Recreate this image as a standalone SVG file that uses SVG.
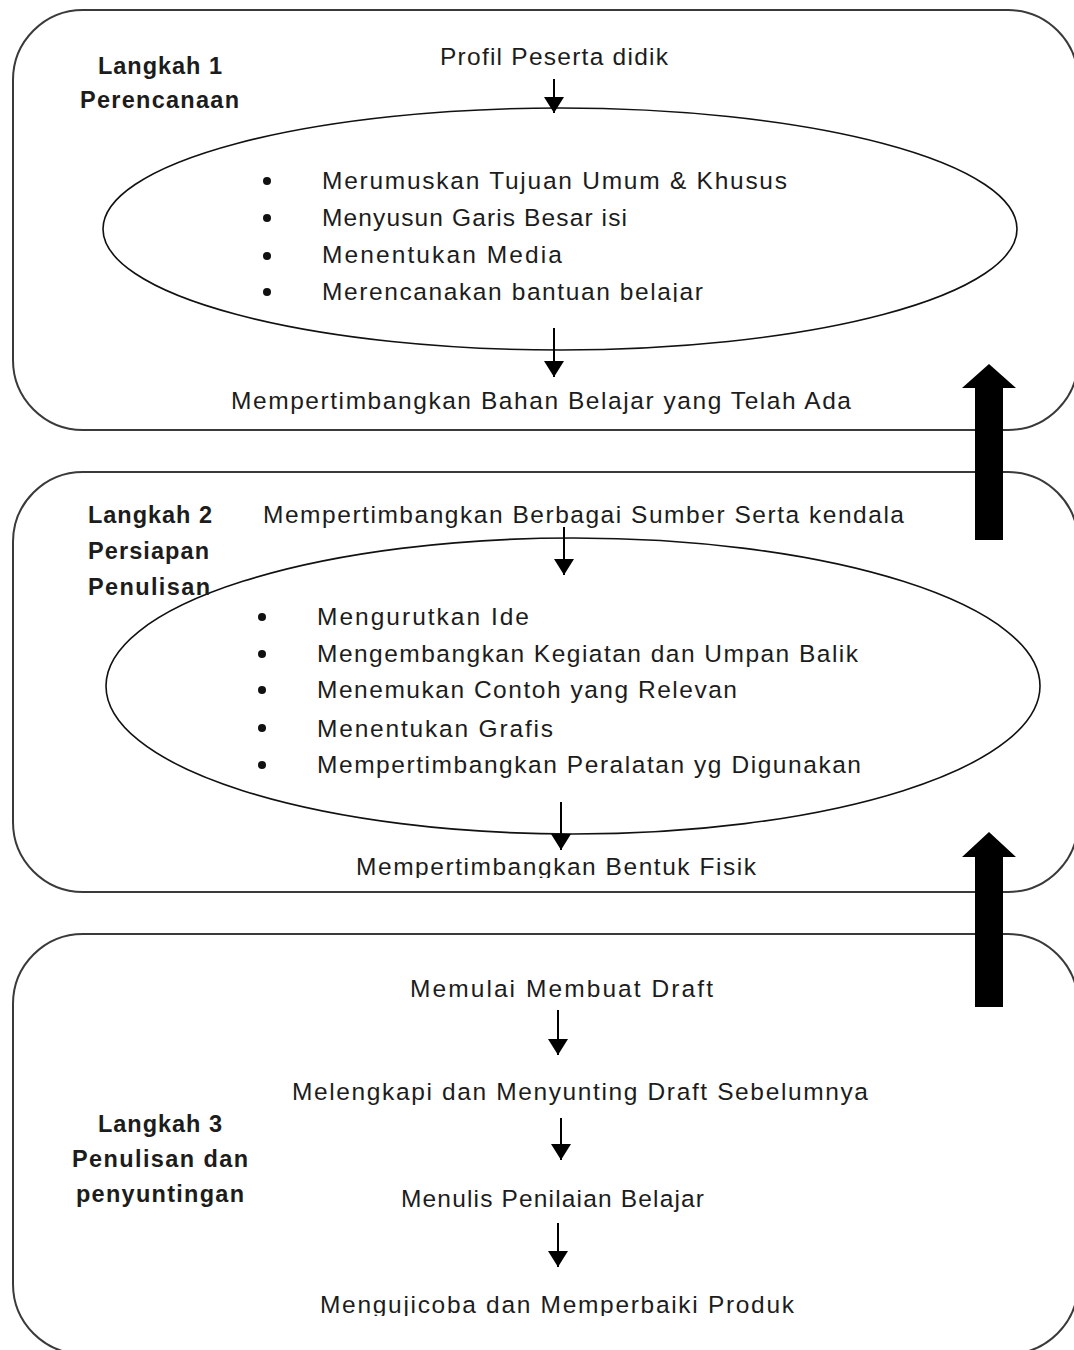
<svg xmlns="http://www.w3.org/2000/svg" width="1074" height="1350" viewBox="0 0 1074 1350">
<style>
  .box{fill:#ffffff;stroke:#3a3a3a;stroke-width:2}
  .ell{fill:#ffffff;stroke:#111;stroke-width:1.6}
  .t{font-family:"Liberation Sans",Arial,sans-serif;font-size:24.5px;fill:#1c1c1c}
  .b{font-family:"Liberation Sans",Arial,sans-serif;font-size:23.5px;font-weight:bold;fill:#1c1c1c}
  .bul{fill:#111}
  .con{stroke:#000;stroke-width:2;fill:none}
  .big{fill:#000}
</style>
<defs>
  <marker id="ah" viewBox="0 0 16 20" refX="16" refY="10" markerWidth="16" markerHeight="20" markerUnits="userSpaceOnUse" orient="auto">
    <path d="M0,0 L16,10 L0,20 Z" fill="#000"/>
  </marker>
  <clipPath id="clipA"><rect x="0" y="0" width="1074" height="302"/></clipPath>
  <clipPath id="clipB"><rect x="0" y="0" width="1074" height="878"/></clipPath>
  <clipPath id="clipC"><rect x="0" y="0" width="1074" height="1316"/></clipPath>
</defs>

<g id="step1">
  <rect class="box" x="13" y="10" width="1065" height="420" rx="70" ry="70"/>
  <text class="b" x="98" y="74" textLength="124">Langkah 1</text>
  <text class="b" x="80" y="108" textLength="159">Perencanaan</text>
  <text class="t" x="440" y="65" textLength="228">Profil Peserta didik</text>
  <ellipse class="ell" cx="560" cy="229" rx="457" ry="121"/>
  <circle class="bul" cx="267" cy="181" r="4"/>
  <circle class="bul" cx="267" cy="218" r="4"/>
  <circle class="bul" cx="267" cy="256" r="4"/>
  <circle class="bul" cx="267" cy="292" r="4"/>
  <text class="t" x="322" y="189" textLength="465">Merumuskan Tujuan Umum &amp; Khusus</text>
  <text class="t" x="322" y="226" textLength="305">Menyusun Garis Besar isi</text>
  <text class="t" x="322" y="263" textLength="240">Menentukan Media</text>
  <text class="t" x="322" y="300" textLength="381" clip-path="url(#clipA)">Merencanakan bantuan belajar</text>
  <text class="t" x="231" y="409" textLength="620">Mempertimbangkan Bahan Belajar yang Telah Ada</text>
</g>

<g id="step2">
  <rect class="box" x="13" y="472" width="1065" height="420" rx="70" ry="70"/>
  <text class="b" x="88" y="523" textLength="124">Langkah 2</text>
  <text class="b" x="88" y="559" textLength="121">Persiapan</text>
  <text class="t" x="263" y="523" textLength="641">Mempertimbangkan Berbagai Sumber Serta kendala</text>
  <ellipse class="ell" cx="573" cy="686" rx="467" ry="148"/>
  <text class="b" x="88" y="595" textLength="122">Penulisan</text>
  <circle class="bul" cx="262" cy="617" r="4"/>
  <circle class="bul" cx="262" cy="654" r="4"/>
  <circle class="bul" cx="262" cy="690" r="4"/>
  <circle class="bul" cx="262" cy="728" r="4"/>
  <circle class="bul" cx="262" cy="765" r="4"/>
  <text class="t" x="317" y="625" textLength="212">Mengurutkan Ide</text>
  <text class="t" x="317" y="662" textLength="541">Mengembangkan Kegiatan dan Umpan Balik</text>
  <text class="t" x="317" y="698" textLength="420">Menemukan Contoh yang Relevan</text>
  <text class="t" x="317" y="737" textLength="236">Menentukan Grafis</text>
  <text class="t" x="317" y="773" textLength="544">Mempertimbangkan Peralatan yg Digunakan</text>
  <text class="t" x="356" y="875" textLength="400" clip-path="url(#clipB)">Mempertimbangkan Bentuk Fisik</text>
</g>

<g id="step3">
  <rect class="box" x="13" y="934" width="1065" height="420" rx="70" ry="70"/>
  <text class="b" x="98" y="1132" textLength="124">Langkah 3</text>
  <text class="b" x="72" y="1167" textLength="176">Penulisan dan</text>
  <text class="b" x="76" y="1202" textLength="168">penyuntingan</text>
  <text class="t" x="410" y="997" textLength="303">Memulai Membuat Draft</text>
  <text class="t" x="292" y="1100" textLength="576">Melengkapi dan Menyunting Draft Sebelumnya</text>
  <text class="t" x="401" y="1207" textLength="303">Menulis Penilaian Belajar</text>
  <text class="t" x="320" y="1313" textLength="474" clip-path="url(#clipC)">Mengujicoba dan Memperbaiki Produk</text>
</g>

<g id="connectors">
  <line class="con" x1="554" y1="79" x2="554" y2="113" marker-end="url(#ah)"/>
  <line class="con" x1="554" y1="328" x2="554" y2="377" marker-end="url(#ah)"/>
  <line class="con" x1="564" y1="527" x2="564" y2="575" marker-end="url(#ah)"/>
  <line class="con" x1="561" y1="802" x2="561" y2="850" marker-end="url(#ah)"/>
  <line class="con" x1="558" y1="1010" x2="558" y2="1055" marker-end="url(#ah)"/>
  <line class="con" x1="561" y1="1118" x2="561" y2="1160" marker-end="url(#ah)"/>
  <line class="con" x1="558" y1="1223" x2="558" y2="1267" marker-end="url(#ah)"/>
  <polygon class="big" points="989,364 1016,388 1003,388 1003,540 975,540 975,388 962,388"/>
  <polygon class="big" points="989,832 1016,857 1003,857 1003,1007 975,1007 975,857 962,857"/>
</g>
</svg>
